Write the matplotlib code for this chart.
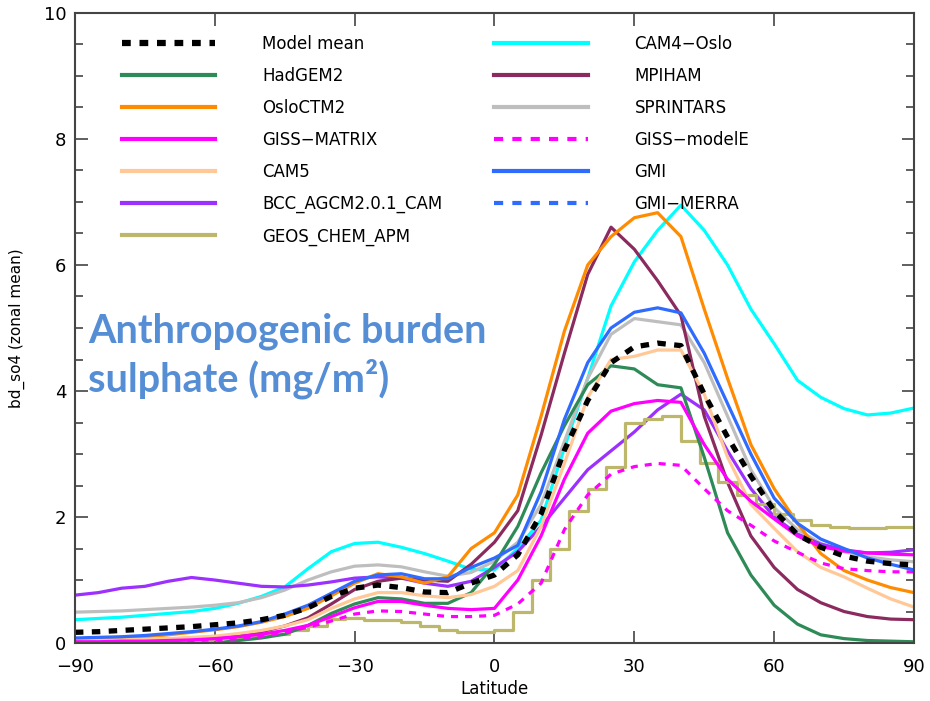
import matplotlib
matplotlib.use("Agg")
import matplotlib.pyplot as plt
from matplotlib.lines import Line2D
from matplotlib.ticker import MultipleLocator

# latitude grid used by most models (5 degree steps)
lat = [-90, -85, -80, -75, -70, -65, -60, -55, -50, -45, -40, -35, -30, -25, -20, -15, -10, -5,
       0, 5, 10, 15, 20, 25, 30, 35, 40, 45, 50, 55, 60, 65, 70, 75, 80, 85, 90]

# GEOS_CHEM_APM is on a coarse 4 degree grid
lat_geos = [-90, -86, -82, -78, -74, -70, -66, -62, -58, -54, -50, -46, -42, -38, -34, -30, -26,
            -22, -18, -14, -10, -6, -2, 2, 6, 10, 14, 18, 22, 26, 30, 34, 38, 42, 46, 50, 54,
            58, 62, 66, 70, 74, 78, 82, 86, 90]

model_mean = [0.17, 0.18, 0.2, 0.22, 0.24, 0.26, 0.29, 0.32, 0.37, 0.44, 0.56, 0.74, 0.87, 0.92,
              0.88, 0.81, 0.8, 0.95, 1.08, 1.4, 2.05, 3.06, 3.85, 4.45, 4.7, 4.76, 4.72, 3.95,
              3.27, 2.65, 2.1, 1.72, 1.52, 1.38, 1.3, 1.26, 1.24]
hadgem2 = [0.0, 0.0, 0.0, 0.0, 0.0, 0.0, 0.0, 0.04, 0.08, 0.14, 0.28, 0.47, 0.62, 0.72, 0.7,
           0.63, 0.63, 0.8, 1.25, 1.85, 2.7, 3.45, 4.1, 4.4, 4.35, 4.1, 4.05, 2.95, 1.75, 1.08,
           0.6, 0.3, 0.13, 0.07, 0.04, 0.03, 0.02]
osloctm2 = [0.05, 0.06, 0.08, 0.1, 0.13, 0.17, 0.21, 0.26, 0.33, 0.42, 0.55, 0.75, 0.95, 1.1,
            1.05, 0.95, 1.05, 1.5, 1.75, 2.35, 3.6, 4.95, 6.0, 6.45, 6.75, 6.83, 6.45, 5.3, 4.2,
            3.15, 2.45, 1.9, 1.42, 1.15, 1.0, 0.88, 0.8]
giss_matrix = [0.02, 0.02, 0.03, 0.03, 0.04, 0.05, 0.07, 0.1, 0.14, 0.2, 0.28, 0.42, 0.56, 0.66,
               0.66, 0.6, 0.55, 0.53, 0.55, 1.0, 1.7, 2.6, 3.33, 3.68, 3.8, 3.85, 3.82, 3.15,
               2.6, 2.25, 1.97, 1.7, 1.53, 1.46, 1.43, 1.41, 1.4]
cam5 = [0.04, 0.04, 0.05, 0.06, 0.07, 0.09, 0.11, 0.15, 0.2, 0.27, 0.37, 0.55, 0.7, 0.8, 0.8,
        0.75, 0.72, 0.77, 0.9, 1.15, 1.85, 2.85, 3.9, 4.5, 4.55, 4.65, 4.65, 3.95, 2.95, 2.2,
        1.82, 1.45, 1.2, 1.05, 0.87, 0.7, 0.57]
bcc = [0.76, 0.8, 0.87, 0.9, 0.98, 1.04, 1.0, 0.95, 0.9, 0.89, 0.92, 0.97, 1.03, 1.05, 1.03,
       0.95, 0.9, 0.98, 1.2, 1.45, 1.85, 2.3, 2.75, 3.05, 3.35, 3.7, 3.95, 3.7, 3.05, 2.45, 2.0,
       1.73, 1.57, 1.48, 1.43, 1.44, 1.48]
geos_chem = [0.03, 0.03, 0.04, 0.04, 0.05, 0.05, 0.06, 0.07, 0.08, 0.1, 0.12, 0.15, 0.2, 0.27,
             0.38, 0.4, 0.36, 0.37, 0.33, 0.27, 0.2, 0.17, 0.18, 0.2, 0.5, 1.0, 1.5, 2.1, 2.45,
             2.8, 3.5, 3.55, 3.6, 3.2, 2.85, 2.55, 2.35, 2.2, 2.05, 1.95, 1.88, 1.84, 1.82,
             1.83, 1.84, 1.84]
cam4_oslo = [0.37, 0.39, 0.41, 0.44, 0.47, 0.5, 0.55, 0.63, 0.74, 0.89, 1.18, 1.45, 1.58, 1.6,
             1.52, 1.42, 1.3, 1.17, 1.16, 1.5, 1.95, 3.1, 4.2, 5.35, 6.05, 6.55, 6.95, 6.55,
             6.0, 5.3, 4.75, 4.17, 3.9, 3.72, 3.62, 3.65, 3.73]
mpiham = [0.02, 0.02, 0.02, 0.03, 0.04, 0.06, 0.08, 0.12, 0.18, 0.27, 0.4, 0.62, 0.85, 0.98,
          1.03, 1.0, 0.98, 1.25, 1.6, 2.1, 3.3, 4.6, 5.85, 6.6, 6.25, 5.75, 5.2, 3.6, 2.55,
          1.7, 1.2, 0.85, 0.64, 0.5, 0.42, 0.38, 0.37]
sprintars = [0.49, 0.5, 0.51, 0.53, 0.55, 0.57, 0.6, 0.64, 0.72, 0.84, 1.0, 1.13, 1.22, 1.24,
             1.21, 1.13, 1.06, 1.12, 1.3, 1.6, 2.2, 3.2, 4.2, 4.9, 5.15, 5.1, 5.05, 4.45, 3.6,
             2.75, 2.15, 1.8, 1.58, 1.45, 1.37, 1.32, 1.29]
giss_modele = [0.01, 0.01, 0.02, 0.02, 0.03, 0.04, 0.05, 0.07, 0.1, 0.17, 0.25, 0.35, 0.46,
               0.51, 0.5, 0.46, 0.42, 0.42, 0.44, 0.62, 0.95, 1.8, 2.35, 2.68, 2.8, 2.85, 2.82,
               2.45, 2.1, 1.87, 1.62, 1.44, 1.27, 1.18, 1.15, 1.13, 1.13]
gmi = [0.08, 0.09, 0.1, 0.12, 0.15, 0.18, 0.22, 0.27, 0.34, 0.46, 0.6, 0.79, 0.98, 1.08, 1.1,
       1.02, 1.02, 1.2, 1.35, 1.55, 2.4, 3.55, 4.45, 5.0, 5.25, 5.32, 5.24, 4.6, 3.8, 3.0, 2.3,
       1.9, 1.65, 1.5, 1.35, 1.25, 1.16]

# figure with the same pixel size as the original
fig = plt.figure(figsize=(9.3, 7.01), dpi=100)
ax = fig.add_axes([0.0806, 0.0827, 0.9022, 0.8988])

lw = 2.3
ax.plot(lat, cam4_oslo, color="#00FFFF", lw=lw)
ax.plot(lat, sprintars, color="#BEBEBE", lw=lw)
ax.plot(lat, bcc, color="#9B30FF", lw=lw)
ax.plot(lat, mpiham, color="#8B2A5E", lw=lw)
ax.plot(lat, osloctm2, color="#FF8C00", lw=lw)
ax.plot(lat_geos, geos_chem, color="#BDB76B", lw=lw, drawstyle="steps-mid")
ax.plot(lat, hadgem2, color="#2E8B57", lw=lw)
ax.plot(lat, cam5, color="#FFC896", lw=lw)
ax.plot(lat, giss_matrix, color="#FF00FF", lw=lw)
ax.plot(lat, giss_modele, color="#FF00FF", lw=lw, linestyle=(0, (2.2, 2.2)))
ax.plot(lat, gmi, color="#2F6BFF", lw=lw)
ax.plot(lat, model_mean, color="black", lw=3.8, linestyle=(0, (1.6, 1.6)),
        dash_capstyle="butt")

ax.set_xlim(-90, 90)
ax.set_ylim(0, 10)
ax.xaxis.set_major_locator(MultipleLocator(30))
ax.yaxis.set_major_locator(MultipleLocator(2))
ax.yaxis.set_minor_locator(MultipleLocator(0.5))
ax.tick_params(which="both", direction="in", top=True, right=True, labelsize=13,
               color="#444444")
ax.tick_params(which="major", length=9, width=1.2)
ax.tick_params(which="minor", length=6, width=1.2)
ax.tick_params(axis="x", pad=11)
ax.tick_params(axis="y", pad=6)
for s in ax.spines.values():
    s.set_linewidth(1.5)
    s.set_color("#444444")
ax.set_xlabel("Latitude", fontsize=12, labelpad=3)
ax.set_ylabel("bd_so4 (zonal mean)", fontsize=11, labelpad=14)

# legend split in two columns like the original
def handle(color, ls="-", lw=3):
    return Line2D([], [], color=color, lw=lw, linestyle=ls, dash_capstyle="butt")

left_h = [handle("black", (0, (1.4, 1.4)), 4.5), handle("#2E8B57"), handle("#FF8C00"),
          handle("#FF00FF"), handle("#FFC896"), handle("#9B30FF"), handle("#BDB76B")]
left_l = ["Model mean", "HadGEM2", "OsloCTM2", "GISS\u2212MATRIX", "CAM5",
          "BCC_AGCM2.0.1_CAM", "GEOS_CHEM_APM"]
right_h = [handle("#00FFFF"), handle("#8B2A5E"), handle("#BEBEBE"),
           handle("#FF00FF", (0, (2.2, 2.2))), handle("#2F6BFF"),
           handle("#2F6BFF", (0, (2.2, 2.2)))]
right_l = ["CAM4\u2212Oslo", "MPIHAM", "SPRINTARS", "GISS\u2212modelE", "GMI", "GMI\u2212MERRA"]

leg_kw = dict(frameon=False, fontsize=12, handlelength=5.6, handletextpad=2.8,
              labelspacing=0.84, borderpad=0, borderaxespad=0, loc="upper left")
leg1 = ax.legend(left_h, left_l, bbox_to_anchor=(0.056, 0.965), **leg_kw)
ax.add_artist(leg1)
ax.legend(right_h, right_l, bbox_to_anchor=(0.5, 0.965), **leg_kw)

# blue annotation
fig.text(88 / 930, 0.512, "Anthropogenic burden", color="#558ED5", fontsize=28.5,
         fontweight="bold", family="Lato", va="baseline")
fig.text(88 / 930, 0.441, "sulphate (mg/m\u00b2)", color="#558ED5", fontsize=28.5,
         fontweight="bold", family="Lato", va="baseline")

fig.savefig("out.png", dpi=100)
